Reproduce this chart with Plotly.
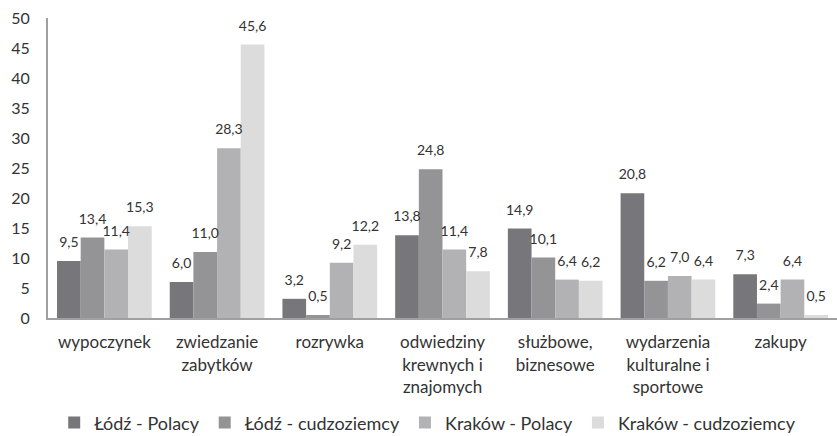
import plotly.graph_objects as go

categories = ["wypoczynek", "zwiedzanie<br>zabytków", "rozrywka", "odwiedziny<br>krewnych i<br>znajomych",
              "służbowe,<br>biznesowe", "wydarzenia<br>kulturalne i<br>sportowe", "zakupy"]
series_names = ["Łódź - Polacy", "Łódź - cudzoziemcy", "Kraków - Polacy", "Kraków - cudzoziemcy"]
lodz_polacy = [9.5, 6.0, 3.2, 13.8, 14.9, 20.8, 7.3]
lodz_cudz = [13.4, 11.0, 0.5, 24.8, 10.1, 6.2, 2.4]
krakow_polacy = [11.4, 28.3, 9.2, 11.4, 6.4, 7.0, 6.4]
krakow_cudz = [15.3, 45.6, 12.2, 7.8, 6.2, 6.4, 0.5]
colors = ["#77777b", "#949497", "#b2b2b5", "#dcdcdd"]
y_ticks = [0, 5, 10, 15, 20, 25, 30, 35, 40, 45, 50]

FONT = "Lato"
all_series = [lodz_polacy, lodz_cudz, krakow_polacy, krakow_cudz]
fig = go.Figure()
for i, (name, vals, col) in enumerate(zip(series_names, all_series, colors)):
    fig.add_trace(go.Bar(
        x=categories, y=vals, name=name, marker_color=col, marker_line_width=0,
        offsetgroup=str(i), alignmentgroup="a", hoverinfo="skip",
    ))
for i, (name, vals) in enumerate(zip(series_names, all_series)):
    fig.add_trace(go.Scatter(
        x=categories, y=vals, mode="markers+text", showlegend=False,
        marker=dict(size=15, opacity=0), hoverinfo="skip",
        text=[f"{v:.1f}".replace(".", ",") for v in vals],
        textposition="top center", cliponaxis=False,
        offsetgroup=str(i), alignmentgroup="a",
        textfont=dict(size=14, color="#333333", family=FONT),
    ))

fig.update_layout(
    width=837, height=436,
    barmode="group", bargap=0.16, bargroupgap=0,
    scattermode="group", scattergap=0.16,
    plot_bgcolor="white", paper_bgcolor="white",
    font=dict(family=FONT, color="#333333"),
    margin=dict(l=48, r=0, t=18, b=118),
    showlegend=True,
    legend=dict(orientation="h", xref="container", x=0.511, xanchor="center",
                yref="container", y=0.03, yanchor="middle",
                font=dict(size=18, color="#333333", family=FONT), traceorder="normal"),
)
fig.update_yaxes(range=[0, 50], tickvals=y_ticks, showgrid=False, showline=True,
                 linecolor="#a0a0a0", linewidth=2, ticks="", ticklabelstandoff=13, automargin=False,
                 tickfont=dict(size=16, color="#333333", family=FONT),
                 zeroline=False)
fig.update_xaxes(range=[-0.5, 6.5], showline=True, linecolor="#a0a0a0", linewidth=2, ticks="",
                 automargin=False, ticklabelstandoff=8,
                 tickfont=dict(size=17, color="#333333", family=FONT))

fig.write_html("out.html", config={"displayModeBar": False},
               post_script="document.body.style.margin='0';document.body.style.overflow='hidden';")
